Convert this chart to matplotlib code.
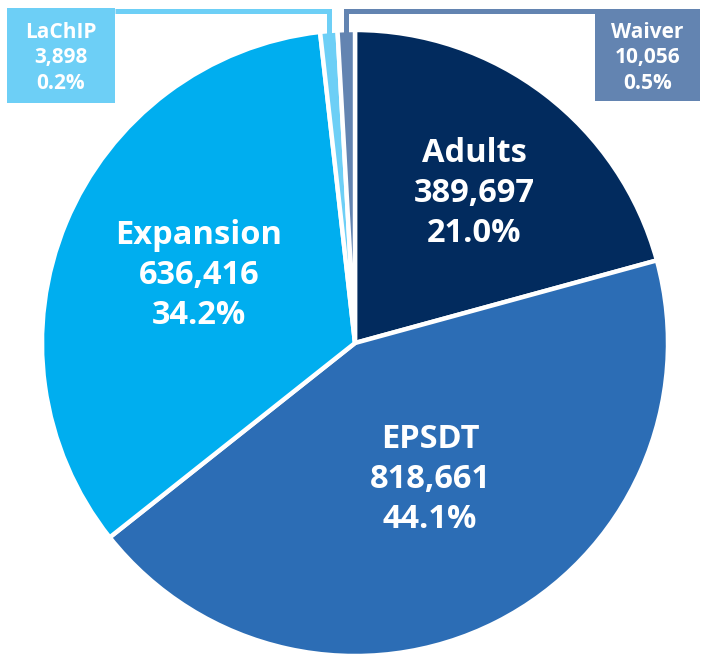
import numpy as np
import matplotlib.pyplot as plt
from matplotlib.patches import Rectangle

# enrollment by group
names = ["Adults", "EPSDT", "Expansion", "LaChIP", "Waiver"]
counts = [389697, 818661, 636416, 3898, 10056]
pct_labels = ["21.0%", "44.1%", "34.2%", "0.2%", "0.5%"]
colors = ["#022b5e", "#2c6db5", "#00aeef", "#6dcff6", "#6384b1"]

W, H = 701, 654
cx, cy, r = 355, H - 343, 313

# tiny groups are widened a bit so they stay visible
total = sum(counts)
shown = np.maximum(np.array(counts, float), 0.009 * total)

fig = plt.figure(figsize=(W / 100, H / 100), dpi=100)
ax = fig.add_axes([0, 0, 1, 1])
wedges, _ = ax.pie(shown, colors=colors, startangle=90, counterclock=False,
                   center=(cx, cy), radius=r,
                   wedgeprops=dict(edgecolor="white", linewidth=3.2))
ax.set_xlim(0, W)
ax.set_ylim(0, H)
ax.set_aspect("equal")
ax.axis("off")

font = "Open Sans"

# big labels inside the pie (pixel positions, y measured from top)
big_pos = {"Adults": (474, 194), "EPSDT": (430, 479), "Expansion": (199, 275)}
for name, n, p in zip(names, counts, pct_labels):
    if name in big_pos:
        x, y = big_pos[name]
        ax.text(x, H - y, f"{name}\n{n:,}\n{p}", ha="center", va="center",
                color="white", fontsize=23.5, fontweight="bold", family=font,
                linespacing=1.28)

# call-out boxes for the two small slices
boxes = {"LaChIP": (7, 8, 115, 103), "Waiver": (595, 9, 700, 101)}
for i, name in enumerate(names):
    if name not in boxes:
        continue
    x0, y0, x1, y1 = boxes[name]
    ax.add_patch(Rectangle((x0, H - y1), x1 - x0, y1 - y0, color=colors[i], lw=0))
    ax.text((x0 + x1) / 2, H - 58,
            f"{name}\n{counts[i]:,}\n{pct_labels[i]}", ha="center", va="center",
            color="white", fontsize=15, fontweight="bold", family=font,
            linespacing=1.3)
    w = wedges[i]
    mid = np.deg2rad((w.theta1 + w.theta2) / 2)
    xs = cx + r * np.cos(mid)
    ys = cy + (r - 4) * np.sin(mid)
    xb = x1 if name == "LaChIP" else x0
    ax.plot([xb, xs, xs], [H - 10.5, H - 10.5, ys], color=colors[i],
            lw=3.6, solid_joinstyle="miter", solid_capstyle="butt")

fig.savefig("out.png", dpi=100)
